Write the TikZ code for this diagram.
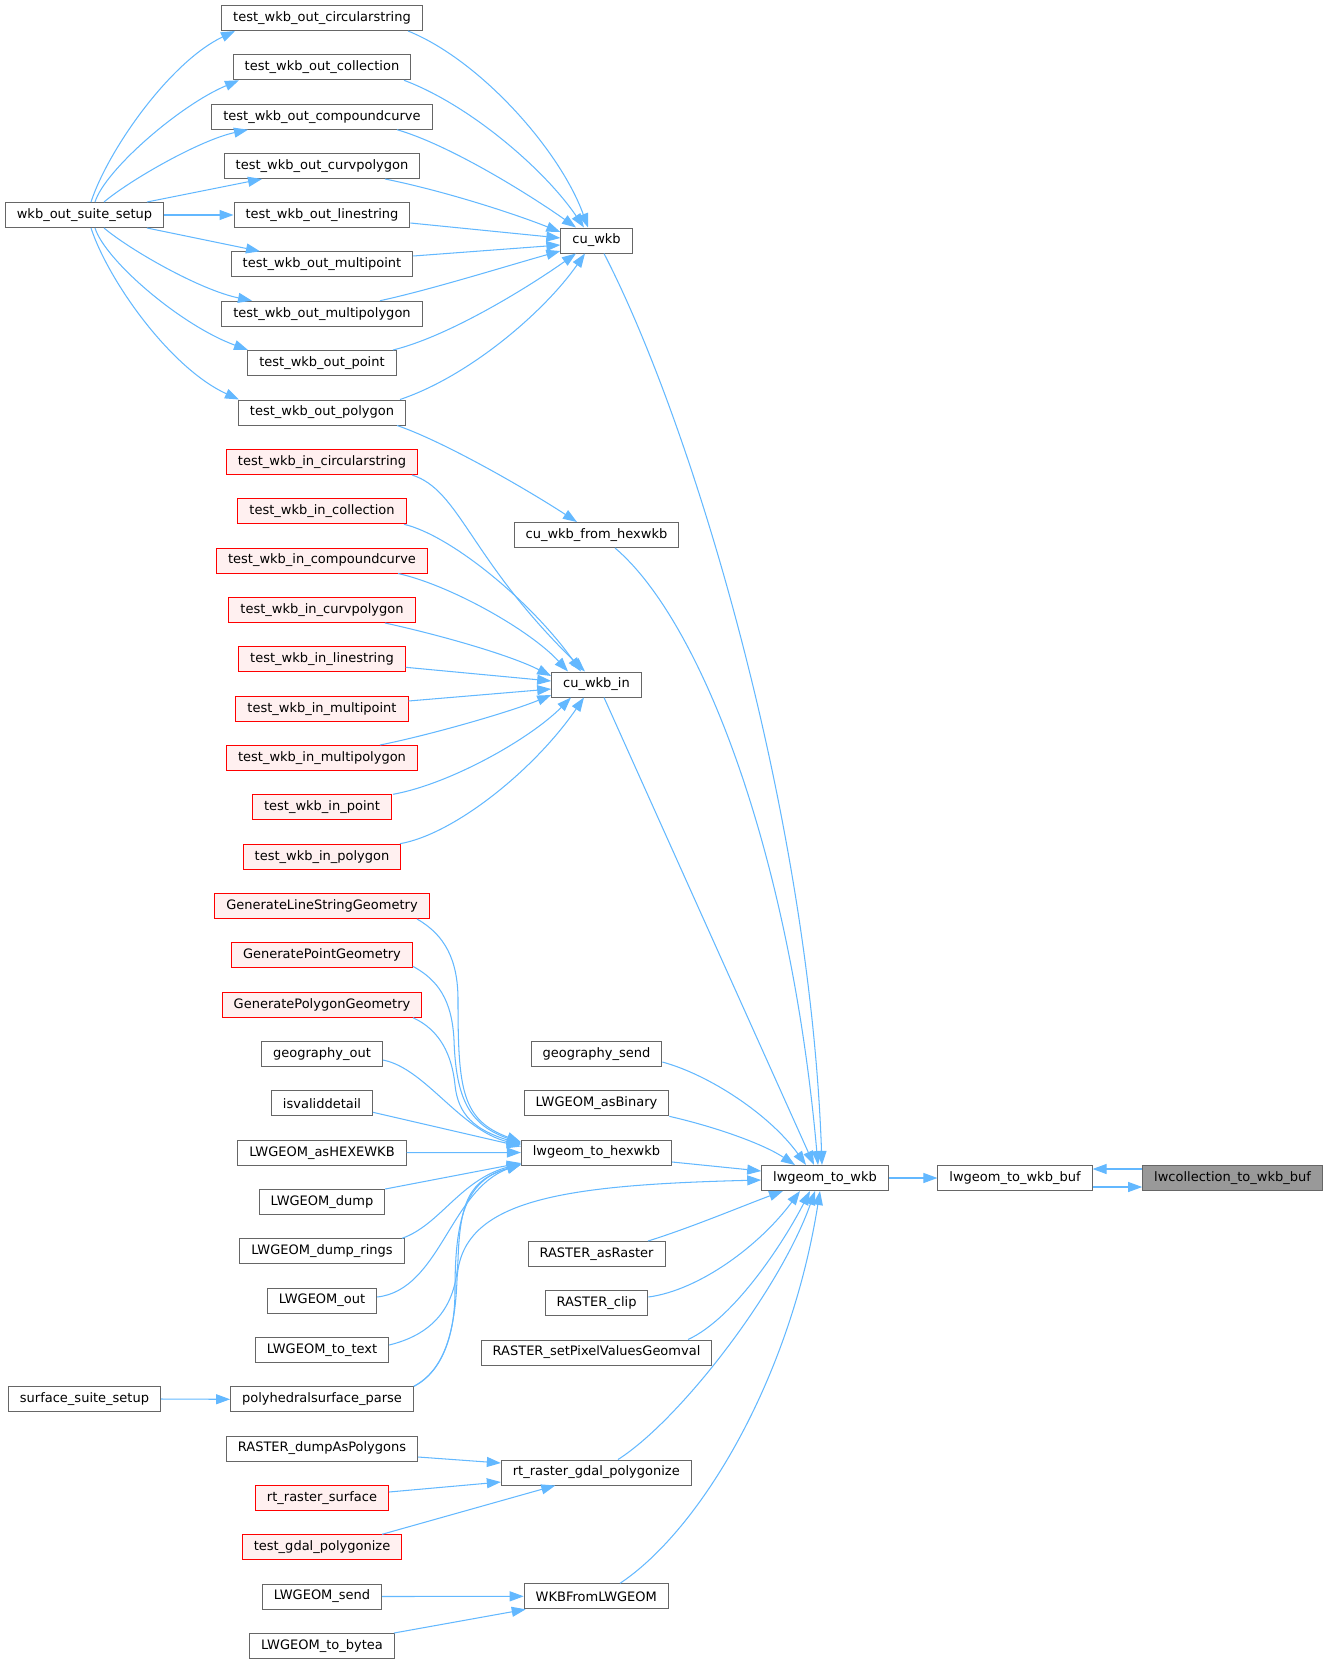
\documentclass[tikz,border=0pt]{standalone}
\usepackage{fontspec}
\setmainfont{DejaVu Sans}
\usetikzlibrary{arrows.meta,calc}
\definecolor{edgec}{HTML}{63B8FF}
\definecolor{bordc}{HTML}{666666}
\definecolor{redfill}{HTML}{FFF0F0}
\definecolor{redline}{HTML}{FF0000}
\definecolor{grayfill}{HTML}{999999}
\begin{document}
\begin{tikzpicture}[x=1pt,y=-1pt,
  fn/.style={draw=bordc,fill=white,line width=1pt,font=\fontsize{13}{15}\selectfont,minimum height=25pt,inner xsep=11.5pt,inner ysep=0pt,text=black},
  redn/.style={fn,draw=redline,fill=redfill},
  curn/.style={fn,fill=grayfill},
  arr/.style={draw=edgec,line width=1.05pt,-{Triangle[length=14pt,width=10pt]}}]
\useasboundingbox (0,0) rectangle (1329,1664);
% column 0
\node[fn] (setup) at (84.5,215) {wkb\_out\_suite\_setup};
\node[fn] (surf) at (84.5,1399) {surface\_suite\_setup};
% column 1
\node[fn] (oc) at (322,18) {test\_wkb\_out\_circularstring};
\node[fn] (ocl) at (322,67.3) {test\_wkb\_out\_collection};
\node[fn] (ocp) at (322,116.7) {test\_wkb\_out\_compoundcurve};
\node[fn] (ocv) at (322,166) {test\_wkb\_out\_curvpolygon};
\node[fn] (ol) at (322,215) {test\_wkb\_out\_linestring};
\node[fn] (omp) at (322,264.3) {test\_wkb\_out\_multipoint};
\node[fn] (ompl) at (322,313.7) {test\_wkb\_out\_multipolygon};
\node[fn] (opt) at (322,363) {test\_wkb\_out\_point};
\node[fn] (opl) at (322,412.5) {test\_wkb\_out\_polygon};
\node[redn] (ic) at (322,462) {test\_wkb\_in\_circularstring};
\node[redn] (icl) at (322,511.3) {test\_wkb\_in\_collection};
\node[redn] (icp) at (322,560.5) {test\_wkb\_in\_compoundcurve};
\node[redn] (icv) at (322,610) {test\_wkb\_in\_curvpolygon};
\node[redn] (il) at (322,659.3) {test\_wkb\_in\_linestring};
\node[redn] (imp) at (322,708.7) {test\_wkb\_in\_multipoint};
\node[redn] (impl) at (322,758) {test\_wkb\_in\_multipolygon};
\node[redn] (ipt) at (322,807.3) {test\_wkb\_in\_point};
\node[redn] (ipl) at (322,856.7) {test\_wkb\_in\_polygon};
\node[redn] (gls) at (322,906) {GenerateLineStringGeometry};
\node[redn] (gpt) at (322,955.3) {GeneratePointGeometry};
\node[redn] (gpl) at (322,1004.7) {GeneratePolygonGeometry};
\node[fn] (gout) at (322,1054) {geography\_out};
\node[fn] (isv) at (322,1103.3) {isvaliddetail};
\node[fn] (ahex) at (322,1152.7) {LWGEOM\_asHEXEWKB};
\node[fn] (dump) at (322,1202) {LWGEOM\_dump};
\node[fn] (dumpr) at (322,1251.3) {LWGEOM\_dump\_rings};
\node[fn] (lout) at (322,1300.5) {LWGEOM\_out};
\node[fn] (ltxt) at (322,1350) {LWGEOM\_to\_text};
\node[fn] (polyh) at (322,1399.3) {polyhedralsurface\_parse};
\node[fn] (rdap) at (322,1448.5) {RASTER\_dumpAsPolygons};
\node[redn] (rrs) at (322,1498) {rt\_raster\_surface};
\node[redn] (tgp) at (322,1547.3) {test\_gdal\_polygonize};
\node[fn] (lsend) at (322,1596.5) {LWGEOM\_send};
\node[fn] (lbytea) at (322,1646) {LWGEOM\_to\_bytea};
% column 2
\node[fn] (cu) at (596.5,240.5) {cu\_wkb};
\node[fn] (cuh) at (596.5,535) {cu\_wkb\_from\_hexwkb};
\node[fn] (cui) at (596.5,684.5) {cu\_wkb\_in};
\node[fn] (gsend) at (596.5,1054) {geography\_send};
\node[fn] (abin) at (596.5,1103.3) {LWGEOM\_asBinary};
\node[fn] (hex) at (596.5,1152.5) {lwgeom\_to\_hexwkb};
\node[fn] (rasr) at (596.5,1254) {RASTER\_asRaster};
\node[fn] (rclip) at (596.5,1303) {RASTER\_clip};
\node[fn] (rspv) at (596.5,1352.5) {RASTER\_setPixelValuesGeomval};
\node[fn] (rtgp) at (596.3,1472.5) {rt\_raster\_gdal\_polygonize};
\node[fn] (wkbf) at (596.3,1596.3) {WKBFromLWGEOM};
% right columns
\node[fn] (ltw) at (825,1178) {lwgeom\_to\_wkb};
\node[fn] (ltwb) at (1015,1178) {lwgeom\_to\_wkb\_buf};
\node[curn] (lcwb) at (1232.5,1178) {lwcollection\_to\_wkb\_buf};
% setup -> test_wkb_out_*
\draw[arr] ($(setup.north)+(6.5,0)$) .. controls (108,150) and (170,62) .. ($(oc.south)+(-87,0)$);
\draw[arr] ($(setup.north)+(10.5,0)$) .. controls (105,170) and (180,105) .. ($(ocl.south)+(-83,0)$);
\draw[arr] ($(setup.north)+(19.5,0)$) .. controls (130,180) and (200,140) .. ($(ocp.south)+(-74,0)$);
\draw[arr] ($(setup.north)+(62.5,0)$) -- ($(ocv.south)+(-60,0)$);
\draw[arr] (setup.east) -- (ol.west);
\draw[arr] ($(setup.south)+(62.5,0)$) -- ($(omp.north)+(-62,0)$);
\draw[arr] ($(setup.south)+(19.5,0)$) .. controls (130,250) and (200,290) .. ($(ompl.north)+(-70,0)$);
\draw[arr] ($(setup.south)+(10.5,0)$) .. controls (105,260) and (180,325) .. ($(opt.north)+(-74,0)$);
\draw[arr] ($(setup.south)+(6.5,0)$) .. controls (108,280) and (170,368) .. ($(opl.north)+(-83,0)$);
% test_wkb_out_* -> cu_wkb
\draw[arr] ($(oc.south)+(86,0)$) .. controls (480,60) and (560,150) .. ($(cu.north)+(-8.5,0)$);
\draw[arr] ($(ocl.south)+(82,0)$) .. controls (470,105) and (545,170) .. ($(cu.north)+(-12.5,0)$);
\draw[arr] ($(ocp.south)+(75,0)$) .. controls (450,145) and (530,195) .. ($(cu.north)+(-20.5,0)$);
\draw[arr] ($(ocv.south)+(63,0)$) .. controls (440,190) and (510,212) .. ($(cu.west)+(0,-8.5)$);
\draw[arr] ($(ol.east)+(0,8)$) -- ($(cu.west)+(0,-2.5)$);
\draw[arr] ($(omp.east)+(0,-8.3)$) -- ($(cu.west)+(0,4.5)$);
\draw[arr] ($(ompl.north)+(58,0)$) .. controls (430,290) and (510,265) .. ($(cu.west)+(0,10.5)$);
\draw[arr] ($(opt.north)+(71,0)$) .. controls (450,336) and (530,286) .. ($(cu.south)+(-20.5,0)$);
\draw[arr] ($(opl.north)+(78,0)$) .. controls (470,376) and (545,311) .. ($(cu.south)+(-11.5,0)$);
% polygon -> cu_wkb_from_hexwkb
\draw[arr] ($(opl.south)+(75,0)$) .. controls (440,440) and (520,485) .. ($(cuh.north)+(-19.5,0)$);
% test_wkb_in_* -> cu_wkb_in
\draw[arr] ($(ic.south)+(90,0)$) .. controls (460,490) and (470,560) .. ($(cui.north)+(-11.5,0)$);
\draw[arr] ($(icl.south)+(82,0)$) .. controls (450,535) and (530,600) .. ($(cui.north)+(-15.5,0)$);
\draw[arr] ($(icp.south)+(76,0)$) .. controls (450,585) and (530,630) .. ($(cui.north)+(-28.5,0)$);
\draw[arr] ($(icv.south)+(63,0)$) .. controls (440,635) and (510,655) .. ($(cui.west)+(0,-8.5)$);
\draw[arr] ($(il.east)+(0,8)$) -- ($(cui.west)+(0,-3.5)$);
\draw[arr] ($(imp.east)+(0,-7.7)$) -- ($(cui.west)+(0,4.5)$);
\draw[arr] ($(impl.north)+(58,0)$) .. controls (430,735) and (510,712) .. ($(cui.west)+(0,10.5)$);
\draw[arr] ($(ipt.north)+(71,0)$) .. controls (450,784) and (530,739) .. ($(cui.south)+(-25.5,0)$);
\draw[arr] ($(ipl.north)+(78,0)$) .. controls (455,834) and (535,769) .. ($(cui.south)+(-12.5,0)$);
% -> lwgeom_to_wkb
\draw[arr] ($(cu.south)+(7.5,0)$) .. controls (695,430) and (810,820) .. ($(ltw.north)+(-3,0)$);
\draw[arr] ($(cuh.south)+(18.5,0)$) .. controls (700,620) and (790,850) .. ($(ltw.north)+(-7,0)$);
\draw[arr] ($(cui.south)+(7.5,0)$) -- ($(ltw.north)+(-11,0)$);
\draw[arr] ($(gsend.east)+(0,8)$) .. controls (710,1075) and (770,1115) .. ($(ltw.north)+(-19,0)$);
\draw[arr] (abin.south east) .. controls (720,1128) and (765,1145) .. ($(ltw.north)+(-30,0)$);
\draw[arr] ($(hex.east)+(0,9.5)$) -- ($(ltw.west)+(0,-7)$);
\draw[arr] (polyh.north east) .. controls (445,1370) and (455,1330) .. (457,1280) .. controls (460,1200) and (560,1185) .. ($(ltw.west)+(0,2)$);
\draw[arr] ($(rasr.north)+(51.5,0)$) .. controls (690,1228) and (745,1205) .. ($(ltw.south)+(-42,0)$);
\draw[arr] ($(rclip.east)+(0,-6)$) .. controls (700,1290) and (760,1245) .. ($(ltw.south)+(-25,0)$);
\draw[arr] ($(rspv.north)+(91.5,0)$) .. controls (735,1318) and (785,1240) .. ($(ltw.south)+(-15,0)$);
\draw[arr] ($(rtgp.north)+(21.7,0)$) .. controls (680,1420) and (780,1290) .. ($(ltw.south)+(-10,0)$);
\draw[arr] ($(wkbf.north)+(23.7,0)$) .. controls (700,1530) and (790,1380) .. ($(ltw.south)+(-5,0)$);
% right chain
\draw[arr] (ltw.east) -- (ltwb.west);
\draw[arr] ($(ltwb.east)+(0,9)$) -- ($(lcwb.west)+(0,9)$);
\draw[arr] ($(lcwb.west)+(0,-9)$) -- ($(ltwb.east)+(0,-9)$);
% -> lwgeom_to_hexwkb
\draw[arr] ($(gls.south)+(95,0)$) .. controls (445,935) and (458,960) .. (458,1000) .. controls (458,1090) and (462,1120) .. ($(hex.west)+(0,-10.5)$);
\draw[arr] ($(gpt.east)+(0,11)$) .. controls (438,980) and (452,1000) .. (454,1040) .. controls (456,1100) and (470,1125) .. ($(hex.west)+(0,-9.5)$);
\draw[arr] ($(gpl.south)+(91,0)$) .. controls (440,1030) and (452,1055) .. (455,1085) .. controls (458,1115) and (475,1130) .. ($(hex.west)+(0,-8.5)$);
\draw[arr] ($(gout.east)+(0,6)$) .. controls (425,1068) and (460,1130) .. ($(hex.west)+(0,-7.5)$);
\draw[arr] ($(isv.east)+(0,9)$) -- ($(hex.west)+(0,-6)$);
\draw[arr] (ahex.east) -- (hex.west);
\draw[arr] (dump.north east) -- ($(hex.west)+(0,10.5)$);
\draw[arr] ($(dumpr.north)+(80,0)$) .. controls (440,1225) and (460,1180) .. ($(hex.west)+(0,11)$);
\draw[arr] ($(lout.east)+(0,-3.5)$) .. controls (440,1290) and (450,1190) .. ($(hex.west)+(0,11.5)$);
\draw[arr] ($(ltxt.east)+(0,-5)$) .. controls (430,1335) and (456,1310) .. (458,1260) .. controls (460,1200) and (470,1180) .. ($(hex.west)+(0,12)$);
\draw[arr] (polyh.north east) .. controls (445,1370) and (455,1330) .. (455,1290) .. controls (455,1220) and (465,1180) .. ($(hex.west)+(0,12.3)$);
% surface setup
\draw[arr] (surf.east) -- (polyh.west);
% -> rt_raster_gdal_polygonize
\draw[arr] ($(rdap.east)+(0,8.5)$) -- ($(rtgp.west)+(0,-9.5)$);
\draw[arr] ($(rrs.east)+(0,-6)$) -- ($(rtgp.west)+(0,9.5)$);
\draw[arr] ($(tgp.north)+(60,0)$) -- ($(rtgp.south)+(-41,0)$);
% -> WKBFromLWGEOM
\draw[arr] (lsend.east) -- (wkbf.west);
\draw[arr] ($(lbytea.north)+(72,0)$) -- ($(wkbf.south west)+(2,0)$);
\end{tikzpicture}
\end{document}
